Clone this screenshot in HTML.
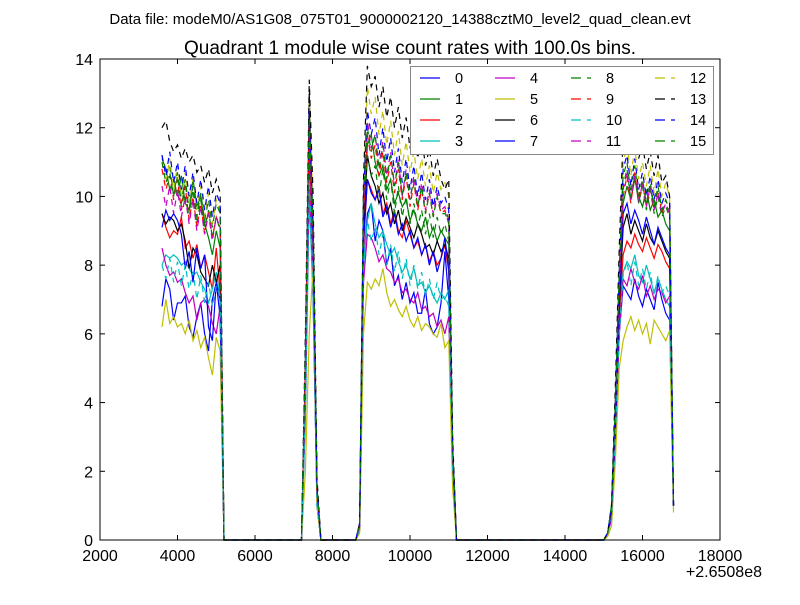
<!DOCTYPE html>
<html><head><meta charset="utf-8"><style>
body{margin:0;background:#fff;}
svg text{font-family:"Liberation Sans",sans-serif;}
</style></head><body>
<svg id="c" width="800" height="600" xmlns="http://www.w3.org/2000/svg">
<rect width="800" height="600" fill="#fff"/>
<text x="400" y="24" font-size="15" text-anchor="middle">Data file: modeM0/AS1G08_075T01_9000002120_14388cztM0_level2_quad_clean.evt</text>
<text x="410" y="54" font-size="19" text-anchor="middle">Quadrant 1 module wise count rates with 100.0s bins.</text>
<g id="plot"></g>
<rect x="100" y="59" width="620" height="481" fill="none" stroke="#000" stroke-width="1"/>
<g id="axes"></g>
<g id="legend"></g>
</svg>
<script>
const xTicks=[2000,4000,6000,8000,10000,12000,14000,16000,18000];
const yTicks=[0,2,4,6,8,10,12,14];
const colors=['#0000ff','#008000','#ff0000','#00bfbf','#bf00bf','#bfbf00','#000000','#0000ff','#008000','#ff0000','#00bfbf','#bf00bf','#bfbf00','#000000','#0000ff','#008000'];
const seg1=[
[6.8,7.6,7.3,6.4,6.9,6.9,7.1,6.2,5.9,6.5,6.9,6.0,5.5,7.0,7.5,6.5],
[11.1,10.8,10.2,10.5,10.0,10.6,9.8,9.6,10.5,9.7,10.0,9.2,8.8,8.3,9.0,8.5],
[9.5,9.1,8.8,9.0,8.9,9.4,8.5,8.7,8.2,8.6,7.9,8.3,7.8,7.3,8.5,7.2],
[8.0,8.3,8.2,8.3,8.2,8.0,8.1,7.9,7.7,7.8,7.5,7.3,6.9,7.3,7.8,7.0],
[8.5,8.0,7.7,7.8,7.5,7.6,7.2,6.9,7.1,6.4,6.9,7.0,6.8,6.3,6.0,6.8],
[6.2,7.0,6.3,6.5,6.2,6.3,6.0,6.4,5.8,6.1,5.6,5.9,5.3,4.8,5.9,5.5],
[9.5,9.2,9.4,9.3,9.0,9.2,8.7,7.9,8.5,8.3,7.8,7.6,7.4,8.0,7.5,8.0],
[9.1,9.6,9.3,9.5,9.3,8.9,7.9,8.4,7.5,8.5,7.9,8.3,6.2,5.8,7.5,7.0],
[11.2,10.6,10.9,10.0,10.6,9.7,10.4,9.5,10.2,9.2,9.9,9.1,9.6,8.8,9.4,9.0],
[10.8,10.2,10.6,9.9,10.5,9.6,10.3,9.3,10.0,9.1,9.8,8.9,9.6,8.8,9.4,9.1],
[8.0,7.6,8.2,7.5,8.1,7.4,8.0,7.3,7.8,7.0,7.7,6.9,7.5,6.8,7.4,7.1],
[10.3,9.7,10.3,9.5,10.2,9.4,10.0,9.2,9.9,9.0,9.7,8.9,9.5,8.7,9.4,9.1],
[11.0,10.4,11.1,10.2,10.9,10.0,10.7,9.8,10.5,9.6,10.3,9.4,10.1,9.2,9.9,9.6],
[12.0,12.2,11.6,11.3,11.5,11.1,11.4,11.0,11.2,10.7,10.9,10.4,10.8,10.1,10.5,10.1],
[11.2,10.6,11.3,10.4,11.0,10.2,10.9,10.0,10.7,9.8,10.5,9.6,10.3,9.4,10.1,9.8],
[11.0,10.4,10.7,10.0,10.7,9.8,10.5,9.6,10.3,9.4,10.1,9.3,9.9,9.1,9.8,9.5]];
const seg2=[[4,11,7,1],[5,12,9,1.5],[4.5,11.5,8,1.2],[3.5,10,7,1],[4,10.5,7.5,1],[2,6,8,1],[5,13,9,1.5],[5,12.3,8.5,1.5],[5,12,9,1.5],[5,12.2,9,1.5],[4,10.5,7.5,1],[5,12,8.5,1.5],[5.5,12.8,9.5,1.5],[6,13.4,10,1.8],[5.5,12.5,9,1.5],[5.5,12.3,9,1.5]];
const seg3=[
[.3,8,9.5,9.8,8.7,9.3,9,8,8.5,7.4,7.7,7,7.5,6.9,7.2,6.6,6.6,7.3,6.3,6,6.2,6.9,8.4,7.0,2.5],
[.4,9,11.5,11.8,11.0,10.6,10.9,10.2,10.5,9.8,10.1,9.7,9.9,9.3,9.6,9.2,9.0,9.4,8.8,9.1,8.7,9.0,8.8,8.6,2.5],
[.3,8.5,10.5,10.2,9.9,10.3,9.5,9.8,9.2,9.6,9.0,8.8,9.3,8.9,8.5,8.7,8.3,8.6,8.1,8.4,8.0,8.2,8.6,7.8,2.3],
[.3,8,9.3,9.8,9.2,8.8,9,8.6,8.3,8.5,8.1,7.8,8.0,7.6,7.9,7.4,7.5,7.2,7.4,7.1,6.9,7.2,7.0,7.3,2],
[.3,7.5,8.9,8.8,8.5,8.1,8.3,7.9,7.8,7.5,7.6,7.2,7.3,7.0,6.9,7.2,6.7,6.8,6.5,6.6,6.2,6.4,6.0,6.5,2],
[.2,6,7.5,7.3,7.6,7.4,7.9,7.2,6.8,7.0,6.7,6.5,6.8,6.4,6.2,6.5,6.1,6.3,6.2,6.0,5.9,6.3,5.6,5.8,1.5],
[.4,9,11.2,10.6,10.3,9.8,10.1,9.5,9.8,9.2,9.6,9.0,9.4,9.1,8.8,9.2,8.9,8.5,8.6,8.3,8.7,8.4,8.6,8.2,2.4],
[.4,8.7,10.5,10.1,9.9,10.2,9.4,9.7,9.1,9.5,8.9,9.2,8.7,9.0,8.5,8.8,8.3,8.6,8.0,8.4,7.8,8.2,8.8,7.9,2.5],
[.4,9.5,11.2,10.6,10.9,10.0,10.8,9.9,10.5,9.5,10.3,9.4,10.0,9.2,9.8,9.1,9.6,8.9,9.5,8.8,9.4,8.9,9.2,8.7,2.6],
[.4,9.5,11.8,11.1,11.5,10.6,11.3,10.4,11.0,10.1,10.8,9.9,10.6,9.7,10.4,9.6,10.2,9.5,10.1,9.4,10.0,9.5,9.6,9.2,2.7],
[.3,8,9.3,8.7,9.1,8.3,8.9,8.0,8.6,7.8,8.4,7.6,8.2,7.4,8.0,7.3,7.8,7.1,7.6,7.0,7.5,7.0,7.1,6.8,2.1],
[.4,9.5,12.2,11.4,11.8,10.9,11.6,10.6,11.3,10.3,11.1,10.0,10.8,9.9,10.6,9.7,10.4,9.6,10.2,9.5,10.1,9.6,9.7,9.3,2.7],
[.5,10,13.2,12.4,12.9,11.8,12.5,11.5,12.2,11.2,11.9,10.9,11.6,10.7,11.3,10.5,11.1,10.3,10.9,10.1,10.7,10.2,10.4,10.0,2.8],
[.5,10.5,13.8,13.2,13.5,12.6,13.2,12.3,12.9,12.0,12.6,11.7,12.3,11.4,12.0,11.1,11.7,10.9,11.4,10.6,11.1,10.5,10.2,10.5,3],
[.5,10,12.5,11.8,12.3,11.2,12.0,11.0,11.7,10.7,11.4,10.4,11.1,10.2,10.9,10.0,10.7,9.9,10.5,9.7,10.3,9.8,10.0,9.6,2.8],
[.5,10,12.0,11.3,11.8,10.8,11.5,10.5,11.2,10.3,11.0,10.0,10.7,9.9,10.5,9.7,10.3,9.5,10.1,9.4,10.0,9.5,9.5,9.3,2.7]];
const seg4=[
[.2,.6,3,6,7.4,7.2,7,7.6,7.1,6.8,7.3,7,6.7,7.5,7,6.6,6.4,1],
[.2,.8,3.5,7,9.8,10.3,9.9,10.5,10.0,9.7,10.2,9.6,9.9,9.4,9.6,9.2,9.0,1],
[.2,.7,3,6.5,8.3,8.7,8.5,8.9,8.6,8.4,8.8,8.5,8.2,8.6,8.4,8.1,7.9,1],
[.2,.6,3,6,7.8,8.1,7.9,8.3,7.7,7.5,8,7.6,7.2,7.6,7.3,7.0,6.8,1],
[.2,.6,3,6,7.6,7.4,7.9,7.5,7.3,7.7,7.1,7.4,7.0,7.3,7.2,6.9,7.1,1],
[.1,.4,2.3,5,5.8,6.2,6.5,6.1,6.4,6.0,6.3,5.7,6.4,6.2,6.0,5.8,6.1,.8],
[.2,.8,3.3,6.8,9.1,9.5,8.9,9.3,9.0,8.7,9.2,8.8,8.6,9.0,8.7,8.4,8.2,1],
[.2,.8,3.5,7,9.5,9.8,9.2,9.6,9.3,8.9,9.4,9.0,8.6,9.1,8.8,8.5,8.3,1],
[.2,.9,4,7.5,10.3,10.8,9.9,10.6,9.8,10.3,9.6,10.2,9.5,10.0,9.4,9.7,9.4,1],
[.2,.9,4,7.5,10.0,10.6,9.8,10.7,9.9,10.4,9.7,10.3,9.6,10.2,9.5,9.9,9.6,1],
[.2,.6,3,6,7.7,8.1,7.4,8.1,7.4,7.9,7.3,7.8,7.1,7.7,7.2,7.4,7.1,1],
[.2,.9,4,7.5,10.2,10.7,9.9,10.6,9.8,10.4,9.7,10.3,9.6,10.1,9.5,9.8,9.5,1],
[.2,1,4.2,8,11.0,11.5,10.6,11.4,10.5,11.0,10.3,10.9,10.1,10.8,10.0,10.4,10.0,1],
[.2,1,4.5,8.5,11.8,12.0,11.3,12.0,11.1,11.5,10.8,11.3,10.6,11.2,10.4,10.6,10.0,1],
[.2,1,4,7.8,10.8,11.2,10.3,11.1,10.2,10.7,10.0,10.6,9.9,10.5,9.8,10.1,9.8,1],
[.2,1,4,7.8,10.6,11.0,10.1,10.9,10.0,10.5,9.8,10.4,9.7,10.3,9.6,9.9,9.6,1]];
const gapZeros=[21,10,39];
const tStart=3600, tStep=100;
const X0=100,X1=720,Y0=540,Y1=59;
const xs=v=>X0+(v-2000)/16000*(X1-X0);
const ys=v=>Y0-(v/14)*(Y0-Y1);
const NS='http://www.w3.org/2000/svg';
function mk(tag,attrs,parent){const e=document.createElementNS(NS,tag);for(const k in attrs)e.setAttribute(k,attrs[k]);parent.appendChild(e);return e;}
const plot=document.getElementById('plot'),axes=document.getElementById('axes'),leg=document.getElementById('legend');
const z=n=>new Array(n).fill(0);
for(let s=0;s<16;s++){
  const vals=[].concat(seg1[s],z(gapZeros[0]),seg2[s],z(gapZeros[1]),seg3[s],z(gapZeros[2]),seg4[s]);
  const pts=vals.map((v,i)=>xs(tStart+i*tStep).toFixed(2)+','+ys(v).toFixed(2)).join(' ');
  const a={points:pts,fill:'none',stroke:colors[s],'stroke-width':1.2};
  if(s>=8)a['stroke-dasharray']='6,5';
  const pl=mk('polyline',a,plot);
  
  
}
xTicks.forEach(t=>{const x=xs(t);
  mk('line',{x1:x,x2:x,y1:Y0,y2:Y0-5,stroke:'#000'},axes);
  mk('line',{x1:x,x2:x,y1:Y1,y2:Y1+5,stroke:'#000'},axes);
  const tx=mk('text',{x:x,y:Y0+21,'font-size':16,'text-anchor':'middle'},axes);tx.textContent=t;
  
  
});
yTicks.forEach(t=>{const y=ys(t);
  mk('line',{x1:X0,x2:X0+5,y1:y,y2:y,stroke:'#000'},axes);
  mk('line',{x1:X1,x2:X1-5,y1:y,y2:y,stroke:'#000'},axes);
  const tx=mk('text',{x:X0-7,y:y+6,'font-size':16,'text-anchor':'end'},axes);tx.textContent=t;
  
  
});
const off=mk('text',{x:762,y:577,'font-size':16,'text-anchor':'end'},axes);off.textContent='+2.6508e8';


mk('rect',{x:410.5,y:66.5,width:303,height:88,fill:'#fff',stroke:'#888'},leg);
for(let s=0;s<16;s++){const c=Math.floor(s/4),r=s%4;const x=[420,495,571,655][c],y=78+r*21;
  const g=mk('g',{},leg);
  
  
  const a={x1:x,x2:x+20,y1:y,y2:y,stroke:colors[s],'stroke-width':1.2};
  if(s>=8)a['stroke-dasharray']='10,6';
  mk('line',a,g);
  const tx=mk('text',{x:x+35,y:y+5,'font-size':14.5},g);tx.textContent=s;
}
</script>
</body></html>
